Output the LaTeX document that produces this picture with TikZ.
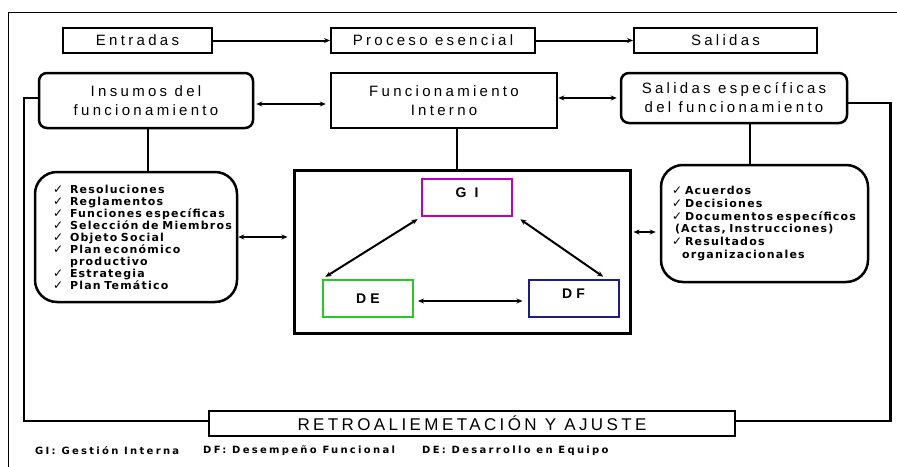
\documentclass[tikz,border=0pt]{standalone}
\usepackage{fontspec}
\setmainfont{Liberation Sans}
\newfontfamily\topfont[LetterSpace=22]{Liberation Sans}
\newfontfamily\retrofont[LetterSpace=20]{Liberation Sans}
\newfontfamily\lblfont[LetterSpace=30]{Liberation Sans Bold}
\newfontfamily\listfont[LetterSpace=11]{DejaVu Sans Bold}
\newfontfamily\legfont[LetterSpace=23]{DejaVu Sans Bold}
\newfontfamily\chkfont{DejaVu Sans}
\usetikzlibrary{arrows.meta}
\definecolor{gicol}{RGB}{190,0,190}
\definecolor{decol}{RGB}{40,200,40}
\definecolor{dfcol}{RGB}{30,30,130}
\newcommand{\ckL}[1]{\mbox{\makebox[17pt][l]{\chkfont\fontsize{12}{12}\selectfont ✓}#1}}
\newcommand{\ckR}[1]{\mbox{\makebox[13pt][l]{\chkfont\fontsize{12}{12}\selectfont ✓}#1}}
\newcommand{\indL}[2]{\mbox{\makebox[#1]{}#2}}
\begin{document}
\begin{tikzpicture}[x=1pt,y=-1pt,
  topbox/.style={draw, line width=2pt, inner sep=0pt, align=center,
    font=\topfont\fontsize{15}{19}\selectfont},
  midbox/.style={draw, line width=2.5pt, inner sep=0pt, align=center,
    font=\topfont\fontsize{15}{19}\selectfont},
  listbox/.style={draw, line width=2.5pt, rounded corners=22pt, inner sep=0pt, align=left,
    font=\listfont\fontsize{11}{12}\selectfont},
  inbox/.style={draw, line width=2pt, inner sep=0pt, minimum width=90pt, minimum height=37pt,
    font=\lblfont\fontsize{14}{16}\selectfont},
  conn/.style={line width=2pt},
  loopline/.style={line width=2.5pt},
  arr/.style={conn, -{Stealth[length=6pt,width=5pt]}},
  darr/.style={conn, {Stealth[length=6pt,width=5pt]}-{Stealth[length=6pt,width=5pt]}},
  legend/.style={anchor=west, inner sep=0pt, font=\legfont\fontsize{10}{12}\selectfont}
]
\useasboundingbox (0,0) rectangle (897,466);
% outer frame
\draw[line width=1pt] (8,470) -- (8,12) -- (900,12);

% top row
\node[topbox, minimum width=149pt, minimum height=25pt] (entr) at (137.5,40.5) {Entradas};
\node[topbox, minimum width=204pt, minimum height=25pt] (proc) at (433,40.5) {Proceso esencial};
\node[topbox, minimum width=183pt, minimum height=25pt] (sal) at (725.5,40.5) {Salidas};
\draw[arr] (entr.east) -- (proc.west);
\draw[arr] (proc.east) -- (sal.west);

% second row
\node[midbox, rounded corners=8pt, minimum width=214pt, minimum height=55pt] (ins) at (146,100.5) {Insumos del\\funcionamiento};
\node[midbox, minimum width=226pt, minimum height=55pt] (fun) at (444,100.5) {Funcionamiento\\Interno};
\node[midbox, rounded corners=8pt, minimum width=226pt, minimum height=50pt] (sesp) at (734,98) {Salidas específicas\\del funcionamiento};
\draw[darr, shorten <=2pt, shorten >=4pt] ([yshift=-3.5pt]ins.east) -- ([yshift=-3.5pt]fun.west);
\draw[darr, shorten <=0pt, shorten >=3pt] (fun.east |- sesp.west) -- (sesp.west);

% lists
\node[listbox, minimum width=202pt, minimum height=130pt, text width=166pt] (llist) at (136,237) {%
\ckL{Resoluciones}\\
\ckL{Reglamentos}\\
\ckL{Funciones específicas}\\
\ckL{Selección de Miembros}\\
\ckL{Objeto Social}\\
\ckL{Plan económico}\\
\indL{17pt}{productivo}\\
\ckL{Estrategia}\\
\ckL{Plan Temático}};
\node[listbox, minimum width=207pt, minimum height=117pt, text width=185pt,
  font=\listfont\fontsize{11}{12.8}\selectfont] (rlist) at (764.5,223.5) {%
\ckR{Acuerdos}\\
\ckR{Decisiones}\\
\ckR{Documentos específicos}\\
\indL{3pt}{(Actas, Instrucciones)}\\
\ckR{Resultados}\\
\indL{10pt}{organizacionales}};

% central box
\node[draw, line width=3pt, minimum width=336pt, minimum height=163pt, inner sep=0pt] (cbox) at (462,251.5) {};
\node[inbox, draw=gicol, text depth=9pt] (gi) at (467,197.5) {G I};
\node[inbox, draw=decol] (de) at (368,298.5) {DE};
\node[inbox, draw=dfcol, text depth=9pt] (df) at (573.5,298.5) {DF};

\draw[darr, shorten <=4pt, shorten >=4pt] (gi.south west) -- (de.north west);
\draw[darr, shorten <=4pt, shorten >=4pt] ([xshift=4pt]gi.south east) -- ([xshift=-13pt]df.north east);
\draw[darr, shorten <=4pt, shorten >=5pt] ([yshift=-2.5pt]de.east) -- ([yshift=-2.5pt]df.west);

% vertical links
\draw[conn] ([xshift=2pt]ins.south) -- ([xshift=2pt]ins.south |- llist.north);
\draw[conn] ([xshift=13pt]fun.south) -- ([xshift=13pt]fun.south |- cbox.north);
\draw[conn] ([xshift=16pt]sesp.south) -- ([xshift=16pt]sesp.south |- rlist.north);

% side arrows
\draw[darr, shorten <=0pt, shorten >=5pt] (llist.east) -- (llist.east -| cbox.west);
\draw[darr, shorten <=2pt, shorten >=4pt] ([yshift=-8.5pt]rlist.west -| cbox.east) -- ([yshift=-8.5pt]rlist.west);

% feedback
\node[draw, line width=2.5pt, minimum width=526pt, minimum height=25pt, inner sep=0pt,
  font=\retrofont\fontsize{17}{20}\selectfont] (retro) at (472,423.5) {RETROALIEMETACIÓN Y AJUSTE};
\draw[loopline] ([yshift=2.5pt]ins.west) -- ++(-14pt,0) |- ([yshift=2.5pt]retro.west);
\draw[loopline] ([yshift=-5pt]sesp.east) -- ++(42pt,0) |- ([yshift=2.5pt]retro.east);

% legend
\node[legend] (lg1) at (35,451) {GI: Gestión Interna};
\node[legend] (lg2) at (203,451) {DF: Desempeño Funcional};
\node[legend] (lg3) at (422,451) {DE: Desarrollo en Equipo};
\end{tikzpicture}
\end{document}
